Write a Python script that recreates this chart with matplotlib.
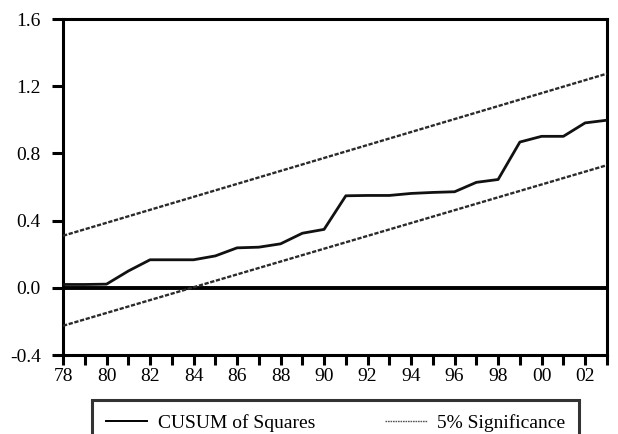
import matplotlib
matplotlib.use("Agg")
import matplotlib.pyplot as plt
from matplotlib.lines import Line2D

# CUSUM of squares, annual, 1978-2003
years = [1978, 1979, 1980, 1981, 1982, 1983, 1984, 1985, 1986, 1987, 1988, 1989, 1990,
         1991, 1992, 1993, 1994, 1995, 1996, 1997, 1998, 1999, 2000, 2001, 2002, 2003]
cusum_sq = [0.02, 0.02, 0.022, 0.10, 0.167, 0.167, 0.167, 0.19, 0.238, 0.242, 0.262, 0.325, 0.348,
            0.548, 0.55, 0.55, 0.562, 0.568, 0.572, 0.628, 0.645, 0.868, 0.902, 0.902, 0.982, 0.998]

# 5% significance bounds (straight lines, read at both ends)
band_years = [1978, 2003]
upper_band = [0.31, 1.275]
lower_band = [-0.226, 0.73]

xtick_labels = ["78", "80", "82", "84", "86", "88", "90", "92", "94", "96", "98", "00", "02"]
ytick_vals = [-0.4, 0.0, 0.4, 0.8, 1.2, 1.6]

plt.rcParams["font.family"] = ["Liberation Serif", "DejaVu Serif"]
plt.rcParams["font.size"] = 14

fig = plt.figure(figsize=(6.18, 4.34), dpi=100)
ax = fig.add_axes([0.102, 0.182, 0.880, 0.774])

dot_style = (0, (1.8, 0.7))
ax.axhline(0.0, color="black", lw=2.8, zorder=2)
ax.plot(band_years, upper_band, color="#2a2a2a", lw=1.7, ls=dot_style, zorder=3)
ax.plot(band_years, lower_band, color="#2a2a2a", lw=1.7, ls=dot_style, zorder=3)
ax.plot(years, cusum_sq, color="#111111", lw=2.0, zorder=4)

ax.set_xlim(1978, 2003)
ax.set_ylim(-0.4, 1.6)
ax.set_xticks(years)
labels = []
for i in range(len(years)):
    labels.append(xtick_labels[i // 2] if i % 2 == 0 else "")
ax.set_xticklabels(labels)
ax.set_yticks(ytick_vals)
ax.set_yticklabels(["%.1f" % v for v in ytick_vals])

for side in ax.spines.values():
    side.set_linewidth(2.2)
ax.tick_params(axis="x", direction="out", length=7, width=2.2, pad=2, labelsize=14)
ax.tick_params(axis="y", direction="out", length=8, width=2.2, pad=8, labelsize=14)

handles = [Line2D([], [], color="black", lw=1.4),
           Line2D([], [], color="#555555", lw=1.0, ls=(0, (1.2, 0.6)))]
leg = fig.legend(handles, ["CUSUM of Squares", "5% Significance"], ncol=2,
                 loc="upper left", bbox_to_anchor=(0.149, 0.078, 0.788, 0.0),
                 mode="expand", frameon=True, fancybox=False, shadow=False,
                 handlelength=2.15, handletextpad=0.55, borderpad=0.7,
                 borderaxespad=0, fontsize=14)
leg.get_frame().set_edgecolor("black")
leg.get_frame().set_linewidth(2.2)

fig.savefig("out.png", dpi=100)
